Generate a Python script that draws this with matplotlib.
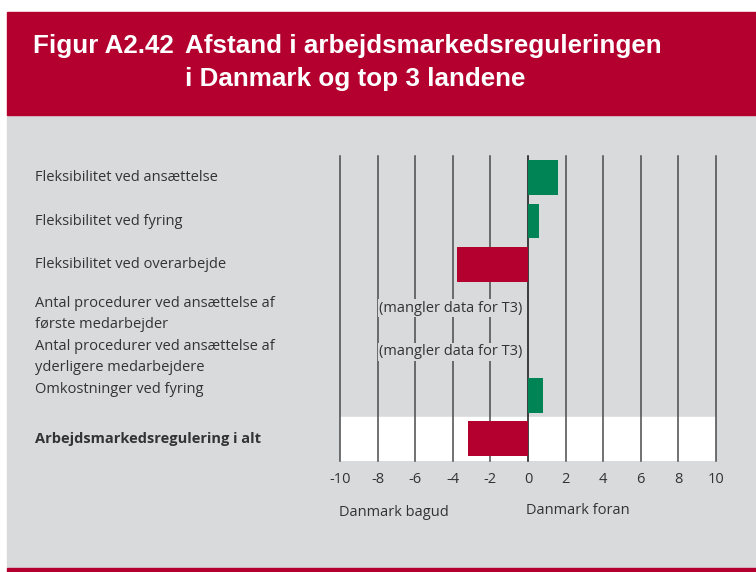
import matplotlib
matplotlib.use('Agg')
import matplotlib.pyplot as plt
from matplotlib.patches import Rectangle
from matplotlib.transforms import blended_transform_factory

# Rækker (oppefra og ned) og afstand til top 3 landene
labels = [
    'Fleksibilitet ved ansættelse',
    'Fleksibilitet ved fyring',
    'Fleksibilitet ved overarbejde',
    'Antal procedurer ved ansættelse af\nførste medarbejder',
    'Antal procedurer ved ansættelse af\nyderligere medarbejdere',
    'Omkostninger ved fyring',
    'Arbejdsmarkedsregulering i alt',
]
values = [1.6, 0.6, -3.8, None, None, 0.8, -3.2]
missing_text = '(mangler data for T3)'
ticks = [-10, -8, -6, -4, -2, 0, 2, 4, 6, 8, 10]

RED = '#B3002F'
GREEN = '#008456'
GRAY = '#D9DADC'
TXT = '#333333'
FS = 10.5

plt.rcParams['font.family'] = ['Open Sans', 'DejaVu Sans']

fig = plt.figure(figsize=(7.56, 5.72), dpi=100)
fig.patch.set_facecolor('white')

W, H = 756, 572
def fx(px):
    return px / W
def fy(py):
    return 1 - py / H

# baggrund, titelboks og bundlinje
fig.add_artist(Rectangle((fx(7), fy(568)), 1, fy(115) - fy(568),
                         transform=fig.transFigure, color=GRAY, zorder=0))
fig.add_artist(Rectangle((fx(7), fy(115)), 1, fy(12) - fy(115),
                         transform=fig.transFigure, color=RED, zorder=0))
fig.add_artist(Rectangle((fx(7), 0), 1, fy(568),
                         transform=fig.transFigure, color=RED, zorder=0))

title_font = dict(family=['Liberation Sans', 'DejaVu Sans'],
                  fontweight='bold', fontsize=18.7, color='white')
fig.text(fx(33), fy(46), 'Figur A2.42', va='center', ha='left', **title_font)
fig.text(fx(185), fy(46), 'Afstand i arbejdsmarkedsreguleringen',
         va='center', ha='left', **title_font)
fig.text(fx(185), fy(79), 'i Danmark og top 3 landene',
         va='center', ha='left', **title_font)

ax = fig.add_axes([fx(340), fy(460.7), fx(716) - fx(340), fy(155.7) - fy(460.7)])
ax.set_facecolor('none')
ax.set_xlim(-10, 10)
ax.set_ylim(len(labels) - 0.5, -0.5)
for s in ax.spines.values():
    s.set_visible(False)

# hvid baggrund bag totalen
ax.axhspan(len(labels) - 1.5, len(labels) - 0.5, color='white', zorder=0)

for t in ticks:
    ax.axvline(t, color='#111111' if t == 0 else '#4a4a4a', lw=1.1,
               zorder=1, clip_on=False)

for i, v in enumerate(values):
    if v is None:
        ax.text(-0.3, i, missing_text, ha='right', va='center', fontsize=FS,
                color=TXT, zorder=3,
                bbox=dict(facecolor=GRAY, edgecolor='none', pad=1.0))
        continue
    ax.barh(i, v, height=0.8, color=GREEN if v > 0 else RED, zorder=2)

ax.set_xticks(ticks)
ax.set_xticklabels([str(t) for t in ticks], fontsize=FS, color=TXT)
ax.tick_params(axis='x', length=0, pad=8)
ax.set_yticks([])

# kategoritekster til venstre
label_y = [0, 1, 2, 3.13, 4.13, 4.87, 6]
trans = blended_transform_factory(fig.transFigure, ax.transData)
for i, (lab, y) in enumerate(zip(labels, label_y)):
    ax.text(fx(35), y, lab, transform=trans, ha='left', va='center',
            fontsize=FS, color=TXT, linespacing=1.55,
            fontweight='bold' if i == len(labels) - 1 else 'normal')

fig.text(fx(394), fy(512), 'Danmark bagud', ha='center', va='center',
         fontsize=FS, color=TXT)
fig.text(fx(578), fy(511), 'Danmark foran', ha='center', va='center',
         fontsize=FS, color=TXT)

fig.savefig('out.png', dpi=100, facecolor=fig.get_facecolor())
